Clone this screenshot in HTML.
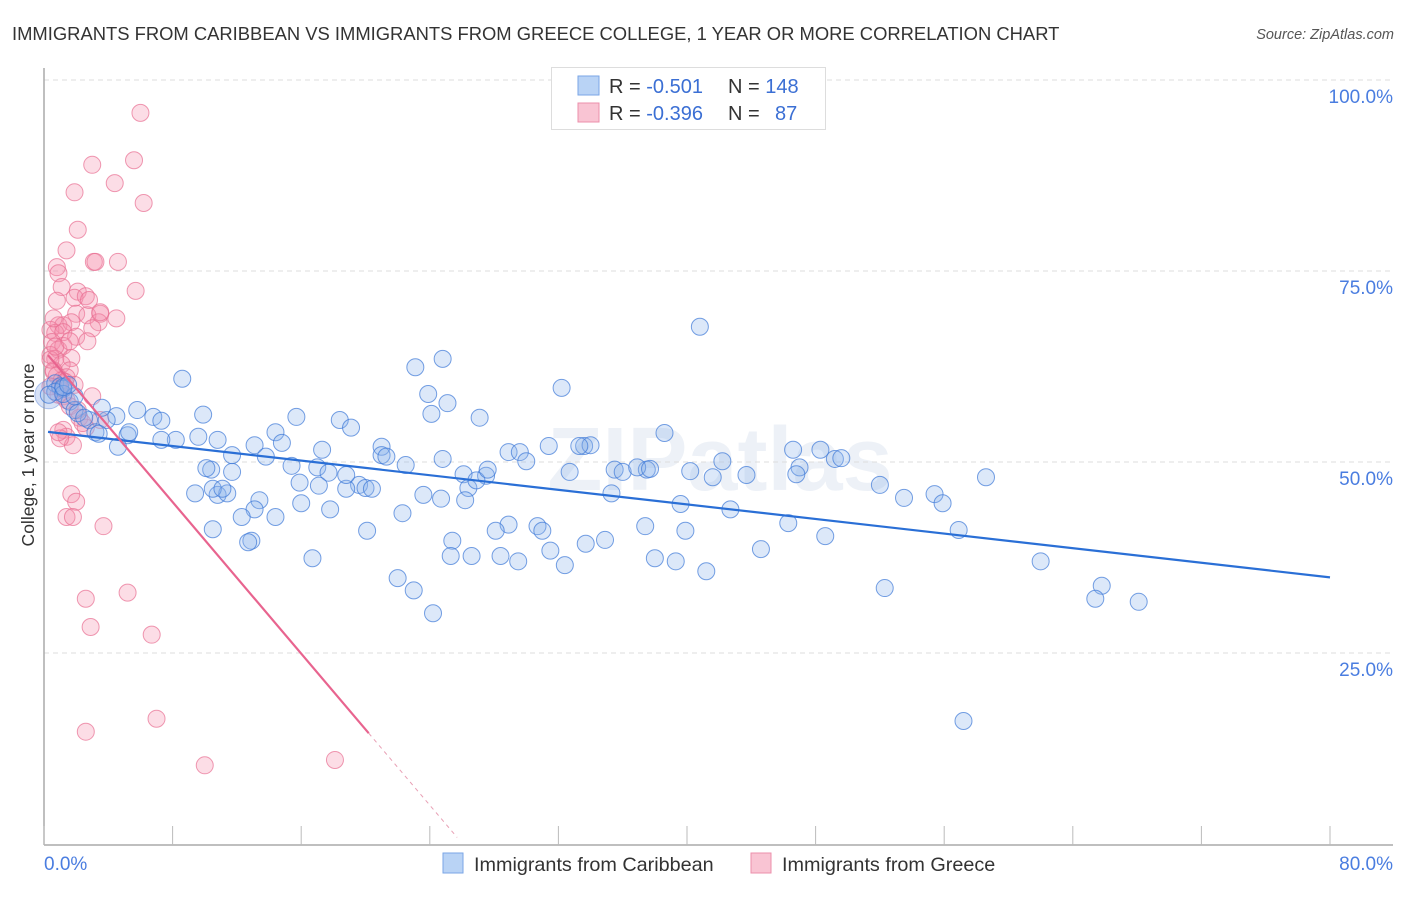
<!DOCTYPE html>
<html><head><meta charset="utf-8">
<style>
body{margin:0;background:#fff;font-family:"Liberation Sans",sans-serif;}
svg text{font-family:"Liberation Sans",sans-serif;}
</style></head>
<body>
<svg width="1406" height="892" viewBox="0 0 1406 892" id="chart">
<text x="12" y="40" font-size="18.4" fill="#333">IMMIGRANTS FROM CARIBBEAN VS IMMIGRANTS FROM GREECE COLLEGE, 1 YEAR OR MORE CORRELATION CHART</text>
<text x="1394" y="39" font-size="14.5" fill="#555" font-style="italic" text-anchor="end">Source: ZipAtlas.com</text>
<text x="720" y="490" font-size="90" fill="#edf1f7" text-anchor="middle" font-weight="bold">ZIPatlas</text>
<g id="grid"></g>
<g id="axes"></g>
<g id="pinkpts"></g>
<g id="bluepts"></g>
<g id="trends"></g>
<text x="34" y="455" font-size="17.5" fill="#333" text-anchor="middle" transform="rotate(-90 34 455)">College, 1 year or more</text>
<g>
<rect x="551.5" y="67.5" width="274" height="62" fill="#fff" stroke="#ddd"/>
<rect x="578" y="76" width="21" height="19" fill="#b9d3f5" stroke="#7aa6e6"/>
<rect x="578" y="103" width="21" height="19" fill="#f9c4d3" stroke="#ec8fab"/>
<text x="609" y="93" font-size="20" fill="#333">R = <tspan fill="#3b6fd4">-0.501</tspan><tspan x="728">N = </tspan><tspan fill="#3b6fd4">148</tspan></text>
<text x="609" y="120" font-size="20" fill="#333">R = <tspan fill="#3b6fd4">-0.396</tspan><tspan x="728">N = </tspan><tspan fill="#3b6fd4" x="775">87</tspan></text>
</g>
<g>
<rect x="443" y="853" width="20" height="20" fill="#b9d3f5" stroke="#7aa6e6"/>
<text x="474" y="871" font-size="19.8" fill="#333">Immigrants from Caribbean</text>
<rect x="751" y="853" width="20" height="20" fill="#f9c4d3" stroke="#ec8fab"/>
<text x="782" y="871" font-size="19.8" fill="#333">Immigrants from Greece</text>
</g>
</svg>
<script>
const blueX=[40.8,24.8,23.1,8.6,32.2,23.9,25.1,24.1,9.9,27.1,15.7,18.4,4.5,5.8,6.8,7.3,19.1,14.4,38.6,3.9,2.8,3.2,5.2,8.2,9.6,10.8,13.1,14.8,17.3,21.0,21.0,21.3,22.5,24.8,31.4,33.6,34.0,28.9,29.6,30.0,48.3,49.2,49.6,46.6,42.2,11.7,13.8,15.4,17.0,19.6,18.8,20.0,20.4,17.7,17.1,18.8,26.1,27.5,26.4,32.7,35.5,36.0,37.5,36.9,37.7,40.2,41.6,43.7,47.0,46.8,52.0,58.6,55.4,55.9,53.5,42.7,39.6,35.3,23.6,26.2,22.3,17.8,14.4,16.0,13.4,13.1,15.9,11.7,10.8,11.4,9.4,10.4,12.3,10.5,12.9,12.7,20.1,25.4,28.9,28.1,30.7,31.0,34.9,33.7,37.4,39.9,44.6,46.3,48.6,56.9,62.0,65.8,65.4,68.1,52.3,57.2,24.2,23.0,22.0,16.7,25.3,26.6,28.4,29.5,31.5,32.4,38.0,39.3,41.2,10.5,11.1,10.1,7.3,5.3,4.6,3.4,3.6,1.6,1.9,2.1,2.5,0.7,1.0,1.2,0.7,0.3,1.2,1.9,1.2,1.5,33.3,26.9,24.7,27.6];
const blueY=[67.7,63.5,62.4,60.9,59.7,58.9,57.7,56.3,56.2,55.8,55.9,55.5,56.0,56.8,55.9,55.4,54.5,53.9,53.8,55.5,55.5,53.9,53.5,52.9,53.3,52.9,52.2,52.5,51.6,52.0,50.9,50.7,49.6,50.4,52.1,52.1,52.2,51.3,51.3,50.1,51.6,50.4,50.5,51.6,50.1,50.9,50.7,49.5,49.3,47.0,46.5,46.6,46.5,48.6,46.9,48.3,48.4,48.2,46.6,48.7,49.0,48.7,49.0,49.3,49.1,48.8,48.0,48.3,49.3,48.4,47.0,48.0,45.8,44.6,45.3,43.8,44.5,45.9,45.7,45.0,43.3,43.8,42.8,44.6,45.0,43.8,47.3,48.7,45.7,45.9,45.9,49.0,42.8,41.2,39.7,39.5,41.0,39.7,41.8,41.0,41.6,41.0,39.8,39.3,41.6,41.0,38.6,42.0,40.3,41.1,37.0,33.8,32.1,31.7,33.5,16.1,30.2,33.2,34.8,37.4,37.7,37.7,37.7,37.0,38.4,36.5,37.4,37.0,35.7,46.5,46.5,49.2,52.9,53.9,52.0,53.7,57.1,57.9,56.8,56.4,55.8,60.3,59.9,59.6,59.2,58.8,58.9,58.6,59.8,60.1,52.1,47.6,45.2,49.0];
const pinkX=[6.0,3.0,5.6,4.4,1.9,6.2,2.1,1.4,0.8,0.9,3.1,3.2,1.1,2.1,5.7,1.9,2.6,2.8,0.8,2.0,3.5,2.7,3.4,4.5,0.9,1.2,1.7,3.0,0.4,0.7,1.2,2.0,2.7,0.5,0.9,1.2,0.4,0.7,1.7,1.1,1.6,0.6,0.8,1.4,1.9,1.0,1.2,1.4,3.0,1.6,2.2,2.6,1.2,1.4,1.8,1.0,2.4,3.5,4.6,0.6,0.4,0.7,1.7,2.0,1.4,1.8,3.7,2.6,5.2,2.9,6.7,2.6,7.0,10.0,18.1,0.4,0.9,1.1,1.6,0.6,1.3,2.1,3.5,0.9];
const pinkY=[95.7,88.9,89.5,86.5,85.3,83.9,80.4,77.7,75.5,74.7,76.2,76.2,72.9,72.3,72.4,71.5,71.7,71.2,71.1,69.4,69.4,69.2,68.3,68.8,67.9,67.9,68.3,67.5,67.3,66.9,67.0,66.4,65.8,65.7,64.7,65.2,64.0,63.5,63.6,62.8,62.0,61.8,61.3,61.1,60.1,59.6,58.6,58.1,58.6,57.3,55.8,54.5,54.2,53.3,52.2,53.1,55.1,69.6,76.2,62.0,63.4,65.1,45.8,44.8,42.8,42.8,41.6,32.1,32.9,28.4,27.4,14.7,16.4,10.3,11.0,59.9,58.8,60.7,65.8,68.8,60.5,56.8,55.5,53.9];
const yTicks=[25,50,75,100];
const yTickLabels=["25.0%","50.0%","75.0%","100.0%"];
const xTicks=[0,8,16,24,32,40,48,56,64,72,80];
const xTickLabels=["0.0%","80.0%"];
const blueTrend=[54.0,34.9];
const pinkTrend=[64.6,-2.48];
const pinkSolidEnd=20.2, pinkDashEnd=25.7;

const NS="http://www.w3.org/2000/svg";
const X0=44,X1=1330,Y0=844,Y100=80;
const sx=v=>X0+(v/80)*(X1-X0);
const sy=v=>Y0-(v/100)*(Y0-Y100);
function mk(tag,attrs,parent){const e=document.createElementNS(NS,tag);for(const k in attrs)e.setAttribute(k,attrs[k]);parent.appendChild(e);return e;}
const grid=document.getElementById('grid'),axes=document.getElementById('axes');
yTicks.forEach((t,i)=>{
  const l=mk('line',{x1:X0,x2:1393,y1:sy(t),y2:sy(t),stroke:'#ddd','stroke-dasharray':'5,4'},grid);
  
  
  const tx=mk('text',{x:1393,y:sy(t)+23,'font-size':19,fill:'#4a7de0','text-anchor':'end'},axes);
  tx.textContent=yTickLabels[i];
  
  
});
const ya=mk('line',{x1:X0,x2:X0,y1:68,y2:Y0+1,stroke:'#aaa','stroke-width':1.5},axes);


const xa=mk('line',{x1:X0,x2:1393,y1:Y0+1,y2:Y0+1,stroke:'#aaa','stroke-width':1.5},axes);


xTicks.forEach(t=>{
  const l=mk('line',{x1:sx(t),x2:sx(t),y1:826,y2:Y0+1,stroke:'#bbb'},axes);
  
  
});
const xl0=mk('text',{x:X0,y:870,'font-size':19,fill:'#4a7de0'},axes);
xl0.textContent=xTickLabels[0];


const xl1=mk('text',{x:1393,y:870,'font-size':19,fill:'#4a7de0','text-anchor':'end'},axes);
xl1.textContent=xTickLabels[1];



const pg=document.getElementById('pinkpts'),bg=document.getElementById('bluepts');
pinkX.forEach((x,i)=>{
  const c=mk('circle',{cx:sx(x),cy:sy(pinkY[i]),r:8.5,fill:'rgba(244,143,172,0.3)',stroke:'rgba(232,110,145,0.7)','stroke-width':1},pg);
  
  
});
const big=mk('circle',{cx:sx(0.3),cy:sy(58.8),r:14,fill:'rgba(140,170,230,0.35)',stroke:'rgba(100,140,220,0.5)'},bg);


blueX.forEach((x,i)=>{
  const c=mk('circle',{cx:sx(x),cy:sy(blueY[i]),r:8.5,fill:'rgba(140,180,235,0.3)',stroke:'rgba(60,120,215,0.7)','stroke-width':1},bg);
  
  
});
const tg=document.getElementById('trends');
const bt=mk('line',{x1:sx(0.25),y1:sy(blueTrend[0]+(blueTrend[1]-blueTrend[0])*0.25/80),x2:sx(80),y2:sy(blueTrend[1]),stroke:'#2a6fd6','stroke-width':2.2},tg);


const pf=x=>pinkTrend[0]+pinkTrend[1]*x;
const pt=mk('line',{x1:sx(0.25),y1:sy(pf(0.25)),x2:sx(pinkSolidEnd),y2:sy(pf(pinkSolidEnd)),stroke:'#e8648f','stroke-width':2.2},tg);


const pd=mk('line',{x1:sx(pinkSolidEnd),y1:sy(pf(pinkSolidEnd)),x2:sx(pinkDashEnd),y2:sy(pf(pinkDashEnd)),stroke:'#e8a0b5','stroke-width':1,'stroke-dasharray':'4,4'},tg);


</script>
</body></html>
